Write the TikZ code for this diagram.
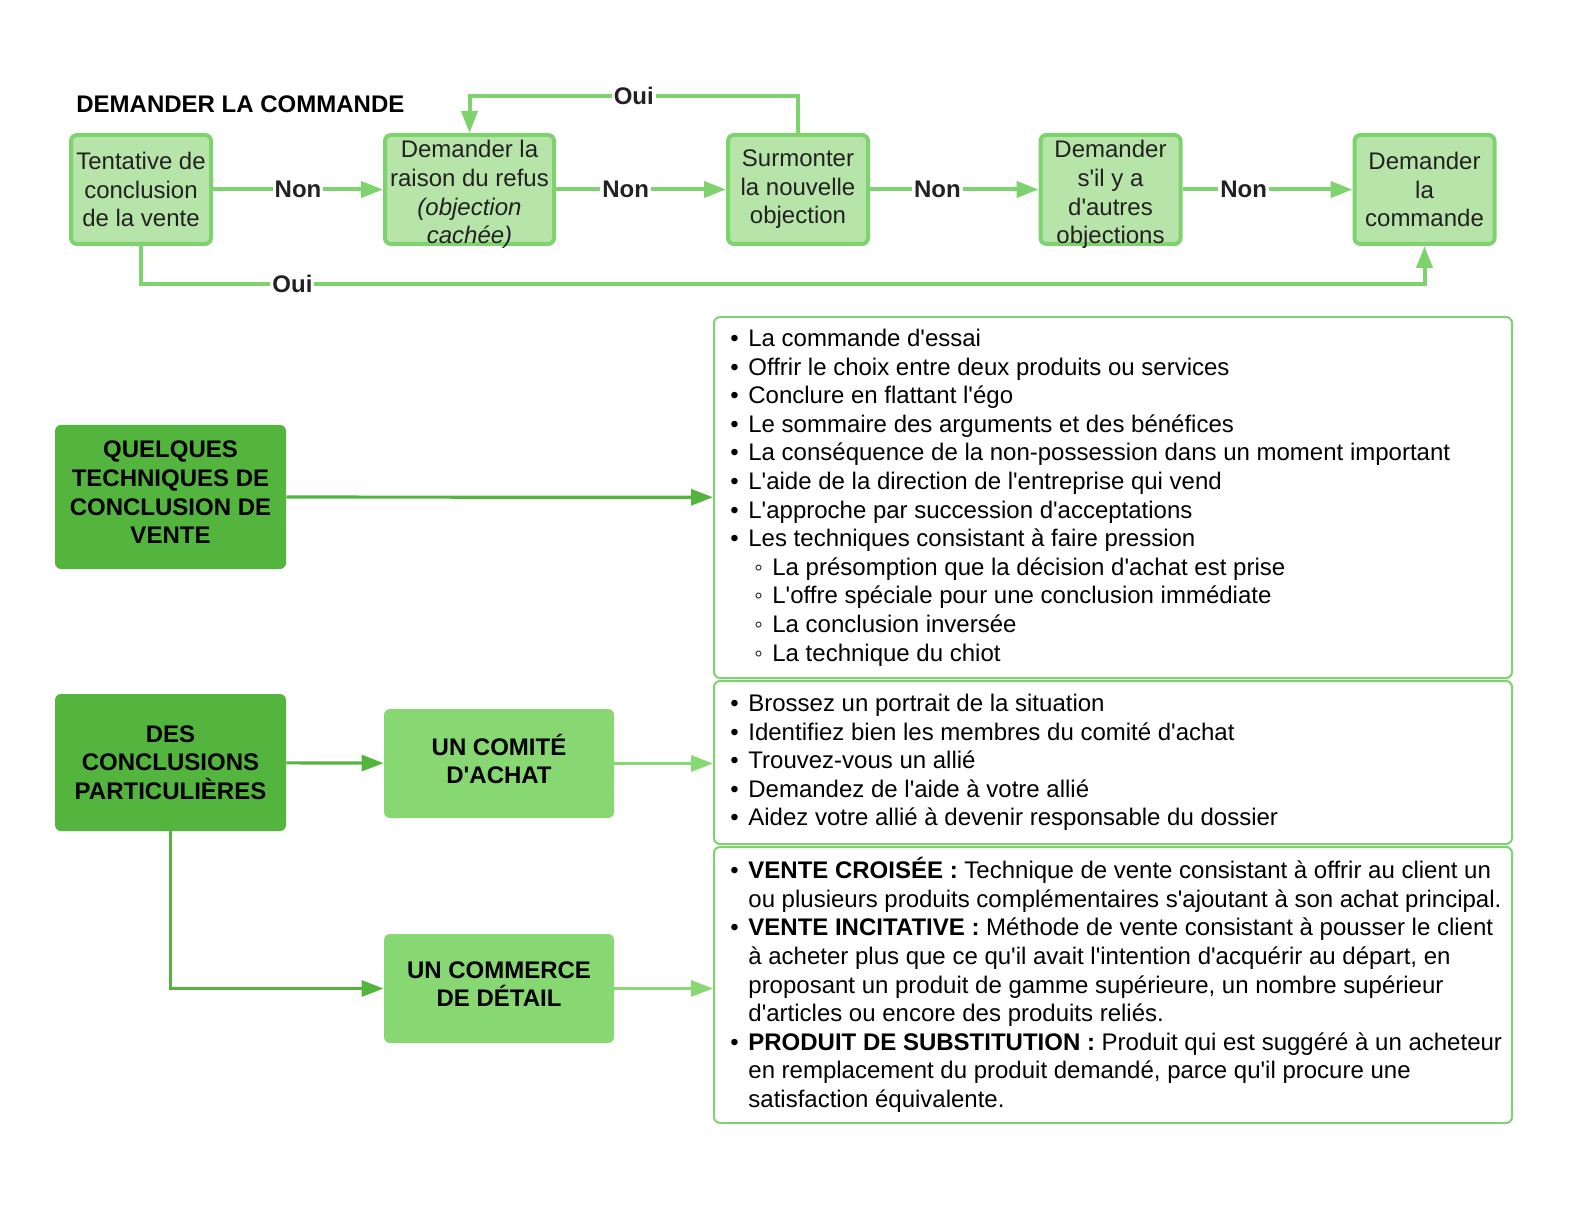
\documentclass[tikz,border=0pt]{standalone}
\usepackage{fontspec}
\setmainfont{Liberation Sans}[Ligatures=TeXOff]
\usetikzlibrary{positioning, arrows.meta}

\definecolor{boxfill}{HTML}{B7E4A8}
\definecolor{boxline}{HTML}{7ED36E}
\definecolor{darkgreen}{HTML}{53B53E}
\definecolor{midgreen}{HTML}{87D873}
\definecolor{txtgray}{HTML}{222222}

\newcommand{\txtfont}{\fontsize{12}{14.3}\selectfont}
\newcommand{\bul}{\makebox[9pt][l]{•}}
\newcommand{\subbul}{\hspace*{12pt}\makebox[9pt][l]{◦}}
\newcommand{\hang}{\hspace*{9pt}}
\newcommand{\lift}{\rule[-4.5pt]{0pt}{4.5pt}}
\newcommand{\drop}{\rule{0pt}{11.25pt}}

\tikzset{
  stepbox/.style={draw=boxline, line width=2pt, fill=boxfill, rounded corners=3pt,
    minimum height=54.5pt, inner sep=0pt, align=center, text=txtgray, font=\txtfont},
  flow/.style={draw=boxline, line width=2pt, -{Triangle[length=11pt,width=8pt]}},
  darkflow/.style={draw=darkgreen, line width=1.6pt, -{Triangle[length=11pt,width=8pt]}},
  midflow/.style={draw=midgreen, line width=1.6pt, -{Triangle[length=11pt,width=8pt]}},
  lbl/.style={fill=white, inner sep=1pt, text=txtgray, font=\bfseries\txtfont},
  topicbox/.style={fill=darkgreen, rounded corners=3pt, minimum width=115.5pt,
    inner sep=0pt, align=center, text=black, font=\bfseries\txtfont},
  subbox/.style={fill=midgreen, rounded corners=3pt, minimum width=115pt,
    minimum height=54.5pt, inner sep=0pt, align=center, text=black, font=\bfseries\txtfont},
  listbox/.style={draw=boxline, line width=1pt, fill=white, rounded corners=3pt,
    minimum width=399pt, inner sep=0pt},
  listtxt/.style={anchor=west, align=left, inner sep=0pt, text=black, font=\txtfont},
}

\begin{document}
\begin{tikzpicture}[x=0.5pt, y=-0.5pt]
\useasboundingbox (0,0) rectangle (1584,1224);

% Title and top flow
\node[anchor=west, inner sep=0pt, font=\bfseries\txtfont] (title) at (76,104) {DEMANDER LA COMMANDE};

\node[stepbox, minimum width=70pt] (b1) at (141,189.5) {Tentative de\\conclusion\\de la vente};
\node[stepbox, minimum width=84.5pt] (b2) at (469.5,189.5) {\drop Demander la\\raison du refus\\\textit{(objection}\\\smash{\textit{cachée)}}};
\node[stepbox, minimum width=70pt] (b3) at (798,189.5) {Surmonter\\la nouvelle\\objection};
\node[stepbox, minimum width=70pt] (b4) at (1110.5,189.5) {\drop Demander\\s'il y a\\d'autres\\\smash{objections}};
\node[stepbox, minimum width=70pt] (b5) at (1424.5,189.5) {Demander\\la\\commande};

\draw[flow] (b1) -- node[lbl, pos=0.5] {Non} (b2);
\draw[flow] (b2) -- node[lbl, pos=0.41] {Non} (b3);
\draw[flow] (b3) -- node[lbl, pos=0.40] {Non} (b4);
\draw[flow] (b4) -- node[lbl, pos=0.36] {Non} (b5);

% Oui loops
\draw[flow] (b3.north) -- ++(0,-37) -| node[lbl, pos=0.25] {Oui} (b2.north);
\draw[flow] (b1.south) -- ++(0,38) -| node[lbl, pos=0.059] {Oui} (b5.south);

% Techniques
\node[topicbox, minimum height=72pt] (d1) at (170.5,497) {QUELQUES\\TECHNIQUES DE\\CONCLUSION DE\\VENTE\lift};
\node[listbox, minimum height=180.5pt] (l1) at (1113,497.5) {};
\node[listtxt] (l1txt) at ([xshift=8.5pt]l1.west) {%
\bul La commande d'essai\\
\bul Offrir le choix entre deux produits ou services\\
\bul Conclure en flattant l'égo\\
\bul Le sommaire des arguments et des bénéfices\\
\bul La conséquence de la non-possession dans un moment important\\
\bul L'aide de la direction de l'entreprise qui vend\\
\bul L'approche par succession d'acceptations\\
\bul Les techniques consistant à faire pression\\
\subbul La présomption que la décision d'achat est prise\\
\subbul L'offre spéciale pour une conclusion immédiate\\
\subbul La conclusion inversée\\
\subbul La technique du chiot};
\draw[darkflow] (d1) -- (l1);

% Conclusions particulieres
\node[topicbox, minimum height=68.5pt] (d2) at (170.5,762.5) {DES\\CONCLUSIONS\\PARTICULIÈRES};
\node[subbox] (m1) at (499,763.5) {UN COMITÉ\\D'ACHAT\lift};
\node[subbox] (m2) at (499,988.5) {UN COMMERCE\\DE DÉTAIL\lift};

\node[listbox, minimum height=81.5pt] (l2) at (1113,762.5) {};
\node[listtxt] (l2txt) at ([xshift=8.5pt]l2.west) {%
\bul Brossez un portrait de la situation\\
\bul Identifiez bien les membres du comité d'achat\\
\bul Trouvez-vous un allié\\
\bul Demandez de l'aide à votre allié\\
\bul Aidez votre allié à devenir responsable du dossier};

\node[listbox, minimum height=138pt] (l3) at (1113,985) {};
\node[listtxt] (l3txt) at ([xshift=8.5pt]l3.west) {%
\bul\textbf{VENTE CROISÉE :} Technique de vente consistant à offrir au client un\\
\hang ou plusieurs produits complémentaires s'ajoutant à son achat principal.\\
\bul\textbf{VENTE INCITATIVE :} Méthode de vente consistant à pousser le client\\
\hang à acheter plus que ce qu'il avait l'intention d'acquérir au départ, en\\
\hang proposant un produit de gamme supérieure, un nombre supérieur\\
\hang d'articles ou encore des produits reliés.\\
\bul\textbf{PRODUIT DE SUBSTITUTION :} Produit qui est suggéré à un acheteur\\
\hang en remplacement du produit demandé, parce qu'il procure une\\
\hang satisfaction équivalente.};

\draw[darkflow] (d2) -- (m1);
\draw[darkflow] (d2.south) |- (m2.west);
\draw[midflow] (m1.east) -- (m1.east -| l2.west);
\draw[midflow] (m2.east) -- (m2.east -| l3.west);
\end{tikzpicture}
\end{document}
